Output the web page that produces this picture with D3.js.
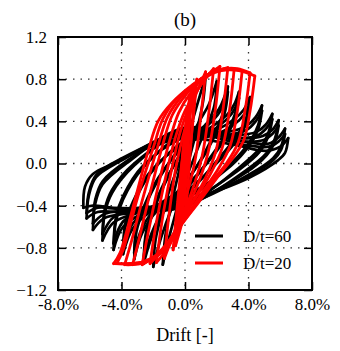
<!DOCTYPE html>
<html><head><meta charset="utf-8">
<script src="https://cdn.jsdelivr.net/npm/d3@7"></script>
<style>
html,body{margin:0;padding:0;background:#fff;}
svg text{font-family:"Liberation Serif","DejaVu Serif",serif !important;fill:#000;}
</style></head>
<body><svg id="c" width="340" height="351"></svg>
<script>
// ---------- data ----------
const titleText = "(b)";
const xLabel = "Drift [-]";
const xTicks = [-8, -4, 0, 4, 8];
const yTicks = [-1.2, -0.8, -0.4, 0, 0.4, 0.8, 1.2];
const seriesNames = ["D/t=60", "D/t=20"];
const seriesColors = ["#000000", "#ff0000"];

// D/t=60 loops: up branches (negative tip -> positive tip), [drift %, load]
const d60Up = [
  [[-1.4,-0.96],[-1.25,-0.7],[-0.95,-0.45],[-0.5,-0.15],[0,0.15],[0.5,0.42],[0.95,0.65],[1.3,0.83]],
  [[-2.0,-0.98],[-1.85,-0.72],[-1.5,-0.5],[-0.9,-0.22],[0,0.14],[0.9,0.4],[1.5,0.56],[2.0,0.78]],
  [[-2.6,-0.95],[-2.45,-0.68],[-2.05,-0.48],[-1.3,-0.2],[0,0.16],[1.3,0.37],[2.15,0.52],[2.7,0.73]],
  [[-2.6,-0.9],[-2.45,-0.65],[-2.05,-0.45],[-1.3,-0.18],[0,0.14],[1.3,0.34],[2.15,0.48],[2.7,0.68]],
  [[-3.2,-0.91],[-3.05,-0.64],[-2.6,-0.44],[-1.7,-0.16],[0,0.2],[1.7,0.35],[2.7,0.47],[3.1,0.56],[3.4,0.68]],
  [[-3.2,-0.85],[-3.05,-0.6],[-2.6,-0.41],[-1.7,-0.14],[0,0.17],[1.7,0.31],[2.7,0.43],[3.1,0.51],[3.4,0.62]],
  [[-3.9,-0.86],[-3.75,-0.6],[-3.3,-0.4],[-2.2,-0.1],[0,0.22],[2.0,0.32],[3.1,0.42],[3.7,0.51],[4.1,0.63]],
  [[-3.9,-0.8],[-3.75,-0.56],[-3.3,-0.37],[-2.2,-0.08],[0,0.19],[2.0,0.28],[3.1,0.37],[3.7,0.46],[4.1,0.57]],
  [[-4.5,-0.82],[-4.35,-0.55],[-3.9,-0.34],[-2.7,-0.05],[0,0.28],[2.7,0.3],[3.9,0.36],[4.45,0.44],[4.85,0.55]],
  [[-4.5,-0.76],[-4.35,-0.51],[-3.9,-0.31],[-2.7,-0.03],[0,0.25],[2.7,0.27],[3.9,0.32],[4.45,0.4],[4.85,0.5]],
  [[-5.2,-0.73],[-5.05,-0.47],[-4.6,-0.28],[-3.2,-0.02],[0,0.32],[3.2,0.27],[4.5,0.3],[5.1,0.37],[5.5,0.47]],
  [[-5.2,-0.67],[-5.05,-0.43],[-4.6,-0.25],[-3.2,0.0],[0,0.29],[3.2,0.24],[4.5,0.26],[5.1,0.33],[5.5,0.42]],
  [[-5.8,-0.63],[-5.65,-0.38],[-5.2,-0.2],[-3.7,0.0],[0,0.34],[3.6,0.24],[4.9,0.26],[5.5,0.32],[5.9,0.41]],
  [[-5.8,-0.57],[-5.65,-0.34],[-5.2,-0.17],[-3.7,0.02],[0,0.31],[3.6,0.21],[4.9,0.22],[5.5,0.28],[5.9,0.36]],
  [[-6.2,-0.52],[-6.05,-0.3],[-5.6,-0.13],[-4.1,0.02],[0,0.31],[4.0,0.2],[5.3,0.19],[5.9,0.25],[6.3,0.33]],
  [[-6.2,-0.47],[-6.05,-0.27],[-5.6,-0.11],[-4.1,0.04],[0,0.28],[4.0,0.17],[5.3,0.16],[5.9,0.21],[6.3,0.28]],
  [[-6.4,-0.42],[-6.3,-0.22],[-5.8,-0.1],[-4.5,0.0],[-2.5,0.14],[0,0.24],[3.0,0.18],[5.1,0.12],[6.0,0.16],[6.5,0.24]]
];
// D/t=60 loops: down branches (positive tip -> negative tip)
const d60Down = [
  [[1.3,0.83],[1.15,0.6],[0.85,0.38],[0.4,0.12],[0,-0.12],[-0.5,-0.42],[-1.0,-0.7],[-1.4,-0.96]],
  [[2.0,0.78],[1.85,0.55],[1.45,0.38],[0.9,0.18],[0,-0.16],[-0.9,-0.45],[-1.5,-0.7],[-2.0,-0.98]],
  [[2.7,0.73],[2.5,0.52],[2.05,0.35],[1.3,0.12],[0,-0.2],[-1.3,-0.45],[-2.1,-0.7],[-2.6,-0.95]],
  [[2.7,0.68],[2.5,0.48],[2.05,0.32],[1.3,0.1],[0,-0.18],[-1.3,-0.42],[-2.1,-0.66],[-2.6,-0.9]],
  [[3.4,0.68],[3.15,0.47],[2.7,0.31],[1.7,0.08],[0,-0.25],[-1.7,-0.44],[-2.7,-0.66],[-3.2,-0.91]],
  [[3.4,0.62],[3.15,0.43],[2.7,0.28],[1.7,0.06],[0,-0.22],[-1.7,-0.4],[-2.7,-0.61],[-3.2,-0.85]],
  [[4.1,0.63],[3.85,0.43],[3.35,0.28],[2.3,0.08],[0,-0.3],[-2.1,-0.45],[-3.3,-0.62],[-3.9,-0.86]],
  [[4.1,0.57],[3.85,0.38],[3.35,0.24],[2.3,0.05],[0,-0.27],[-2.1,-0.42],[-3.3,-0.57],[-3.9,-0.8]],
  [[4.85,0.55],[4.6,0.36],[4.1,0.21],[2.9,0.0],[0,-0.34],[-2.5,-0.46],[-3.9,-0.6],[-4.5,-0.82]],
  [[4.85,0.5],[4.6,0.32],[4.1,0.18],[2.9,-0.02],[0,-0.31],[-2.5,-0.43],[-3.9,-0.55],[-4.5,-0.76]],
  [[5.5,0.47],[5.25,0.29],[4.75,0.15],[3.4,-0.04],[0,-0.4],[-3.0,-0.47],[-4.5,-0.56],[-5.2,-0.73]],
  [[5.5,0.42],[5.25,0.26],[4.75,0.12],[3.4,-0.06],[0,-0.37],[-3.0,-0.44],[-4.5,-0.51],[-5.2,-0.67]],
  [[5.9,0.41],[5.65,0.23],[5.15,0.1],[3.8,-0.07],[0,-0.41],[-3.5,-0.47],[-5.1,-0.52],[-5.8,-0.63]],
  [[5.9,0.36],[5.65,0.2],[5.15,0.08],[3.8,-0.09],[0,-0.38],[-3.5,-0.44],[-5.1,-0.48],[-5.8,-0.57]],
  [[6.3,0.33],[6.05,0.16],[5.55,0.05],[4.1,-0.1],[0,-0.39],[-4.0,-0.46],[-5.5,-0.46],[-6.2,-0.52]],
  [[6.3,0.28],[6.05,0.13],[5.55,0.03],[4.1,-0.11],[0,-0.36],[-4.0,-0.43],[-5.5,-0.42],[-6.2,-0.47]],
  [[6.5,0.24],[6.3,0.1],[5.85,0.03],[4.1,-0.13],[2.2,-0.25],[0,-0.36],[-2.5,-0.42],[-4.5,-0.42],[-5.8,-0.4],[-6.4,-0.42]]
];

// D/t=20 loops: up branches
const d20Up = [
  [[-0.45,-0.62],[-0.3,-0.3],[-0.1,0.15],[0.15,0.5],[0.3,0.62]],
  [[-0.55,-0.72],[-0.35,-0.35],[-0.2,0.0],[0.05,0.35],[0.45,0.72]],
  [[-0.6,-0.78],[-0.4,-0.45],[-0.1,0.05],[0.3,0.5],[0.65,0.76]],
  [[-0.3,-0.6],[-0.15,-0.25],[0.05,0.1],[0.35,0.6]],
  [[-0.75,-0.82],[-0.5,-0.42],[-0.2,0.0],[0.25,0.42],[0.75,0.8]],
  [[-1.3,-0.9],[-1.0,-0.48],[-0.55,-0.02],[0.05,0.36],[0.6,0.62],[1.3,0.87]],
  [[-1.8,-0.94],[-1.45,-0.55],[-0.9,-0.1],[-0.3,0.3],[0.3,0.55],[1.0,0.75],[1.8,0.9]],
  [[-2.2,-0.95],[-1.85,-0.6],[-1.25,-0.15],[-0.6,0.25],[0.0,0.5],[0.8,0.7],[1.5,0.84],[2.2,0.92]],
  [[-2.7,-0.96],[-2.35,-0.68],[-1.7,-0.22],[-1.0,0.2],[-0.4,0.48],[0.4,0.68],[1.4,0.84],[2.7,0.91]],
  [[-3.3,-0.96],[-2.95,-0.75],[-2.2,-0.28],[-1.4,0.18],[-0.8,0.46],[0.1,0.66],[1.0,0.8],[2.0,0.88],[3.1,0.9]],
  [[-3.8,-0.96],[-3.45,-0.78],[-2.6,-0.3],[-1.7,0.17],[-1.1,0.44],[-0.2,0.64],[0.8,0.78],[1.8,0.87],[2.7,0.9],[3.6,0.88]],
  [[-4.3,-0.95],[-3.9,-0.82],[-3.0,-0.33],[-2.0,0.15],[-1.4,0.42],[-0.5,0.62],[0.5,0.75],[1.5,0.85],[2.5,0.9],[3.3,0.9],[4.1,0.86]],
  [[-4.5,-0.95],[-4.1,-0.85],[-3.2,-0.37],[-2.3,0.13],[-1.7,0.4],[-0.8,0.58],[0.3,0.72],[1.3,0.82],[2.3,0.88],[3.4,0.88],[4.4,0.83]]
];
// D/t=20 loops: down branches
const d20Down = [
  [[0.3,0.62],[0.15,0.3],[0.0,0.0],[-0.2,-0.35],[-0.45,-0.62]],
  [[0.45,0.72],[0.3,0.4],[0.15,0.05],[-0.05,-0.35],[-0.55,-0.72]],
  [[0.65,0.76],[0.5,0.45],[0.3,0.05],[0.05,-0.4],[-0.6,-0.78]],
  [[0.35,0.6],[0.2,0.25],[0.0,-0.1],[-0.3,-0.6]],
  [[0.75,0.8],[0.5,0.4],[0.2,0.0],[-0.25,-0.4],[-0.75,-0.82]],
  [[1.3,0.87],[1.0,0.45],[0.6,0.0],[0.0,-0.35],[-0.6,-0.62],[-1.3,-0.9]],
  [[1.8,0.9],[1.5,0.48],[1.05,0.05],[0.4,-0.28],[-0.4,-0.58],[-1.0,-0.78],[-1.8,-0.94]],
  [[2.2,0.92],[1.9,0.5],[1.45,0.1],[0.8,-0.2],[0.0,-0.46],[-0.9,-0.72],[-2.2,-0.95]],
  [[2.7,0.91],[2.4,0.52],[1.95,0.12],[1.25,-0.15],[0.4,-0.38],[-0.5,-0.62],[-1.4,-0.82],[-2.7,-0.96]],
  [[3.1,0.9],[2.8,0.5],[2.35,0.15],[1.6,-0.1],[0.7,-0.32],[-0.3,-0.56],[-1.2,-0.77],[-2.1,-0.9],[-3.3,-0.96]],
  [[3.6,0.88],[3.3,0.5],[2.85,0.17],[2.1,-0.05],[1.2,-0.25],[0.1,-0.5],[-0.9,-0.72],[-1.8,-0.88],[-2.8,-0.95],[-3.8,-0.96]],
  [[4.1,0.86],[3.8,0.52],[3.35,0.2],[2.6,0.0],[1.7,-0.17],[0.4,-0.45],[-0.7,-0.68],[-1.6,-0.86],[-2.6,-0.93],[-3.5,-0.95],[-4.3,-0.95]],
  [[4.4,0.83],[4.1,0.5],[3.7,0.22],[3.0,0.05],[2.2,-0.1],[0.8,-0.38],[-0.5,-0.63],[-1.5,-0.84],[-2.6,-0.93],[-3.6,-0.95],[-4.5,-0.95]]
];

// ---------- chart ----------
const FONT = '"Liberation Serif","DejaVu Serif",serif';
const svg = d3.select("#c");
const L = 58, R = 312, T = 37, B = 290;
const x = d3.scaleLinear().domain([-8, 8]).range([L, R]);
const y = d3.scaleLinear().domain([-1.2, 1.2]).range([B, T]);
const fx = d => (d < 0 ? "-" : "") + Math.abs(d).toFixed(1) + "%";
const fy = d => (d < 0 ? "\u2212" : "") + Math.abs(d).toFixed(1);

// grid
const grid = svg.append("g").attr("stroke", "#333").attr("stroke-width", 1.3)
  .attr("stroke-dasharray", "1.5,6");
grid.selectAll(".gx").data(xTicks.slice(1, -1)).enter().append("line")
  .attr("x1", d => x(d)).attr("x2", d => x(d)).attr("y1", T).attr("y2", B);
grid.selectAll(".gy").data(yTicks.slice(1, -1)).enter().append("line")
  .attr("y1", d => y(d)).attr("y2", d => y(d)).attr("x1", L).attr("x2", R);

// data
svg.append("clipPath").attr("id", "clip").append("rect")
  .attr("x", L).attr("y", T).attr("width", R - L).attr("height", B - T);
const line = d3.line().x(d => x(d[0])).y(d => y(d[1])).curve(d3.curveCatmullRom.alpha(0.5));
const plot = svg.append("g").attr("clip-path", "url(#clip)").attr("fill", "none")
  .attr("stroke-linejoin", "round").attr("stroke-linecap", "round");
function drawSeries(up, down, color, w) {
  const g = plot.append("g").attr("stroke", color).attr("stroke-width", w);
  up.forEach((u, i) => {
    g.append("path").attr("d", line(u));
    g.append("path").attr("d", line(down[i]));
  });
}
drawSeries(d60Up, d60Down, seriesColors[0], 2.7);
drawSeries(d20Up, d20Down, seriesColors[1], 2.8);

// axes
const tick = 8;
svg.append("g").attr("transform", `translate(0,${B})`)
  .call(d3.axisBottom(x).tickValues(xTicks).tickFormat(fx).tickSizeInner(-tick).tickSizeOuter(0).tickPadding(8));
svg.append("g").attr("transform", `translate(0,${T})`)
  .call(d3.axisTop(x).tickValues(xTicks).tickFormat("").tickSizeInner(-tick).tickSizeOuter(0));
svg.append("g").attr("transform", `translate(${L},0)`)
  .call(d3.axisLeft(y).tickValues(yTicks).tickFormat(fy).tickSizeInner(-tick).tickSizeOuter(0).tickPadding(11));
svg.append("g").attr("transform", `translate(${R},0)`)
  .call(d3.axisRight(y).tickValues(yTicks).tickFormat("").tickSizeInner(-tick).tickSizeOuter(0));
svg.selectAll(".domain").remove();
svg.selectAll(".tick line").attr("stroke", "#000").attr("stroke-width", 1.5);
svg.selectAll(".tick text").attr("font-size", 17).style("font-family", FONT);

// frame
svg.append("rect").attr("x", L).attr("y", T).attr("width", R - L).attr("height", B - T)
  .attr("fill", "none").attr("stroke", "#000").attr("stroke-width", 2);

// title & label
svg.append("text").attr("x", (L + R) / 2).attr("y", 26).attr("text-anchor", "middle")
  .attr("font-size", 19).style("font-family", FONT).text(titleText);
svg.append("text").attr("x", (L + R) / 2).attr("y", 341).attr("text-anchor", "middle")
  .attr("font-size", 18).style("font-family", FONT).text(xLabel);

// legend
const lg = svg.append("g");
seriesNames.forEach((n, i) => {
  const yy = 236 + i * 27;
  lg.append("line").attr("x1", 195).attr("x2", 223).attr("y1", yy).attr("y2", yy)
    .attr("stroke", seriesColors[i]).attr("stroke-width", 3);
  lg.append("text").attr("x", 243).attr("y", yy).attr("dy", "0.35em")
    .attr("font-size", 17).style("font-family", FONT).text(n);
});
</script></body></html>
